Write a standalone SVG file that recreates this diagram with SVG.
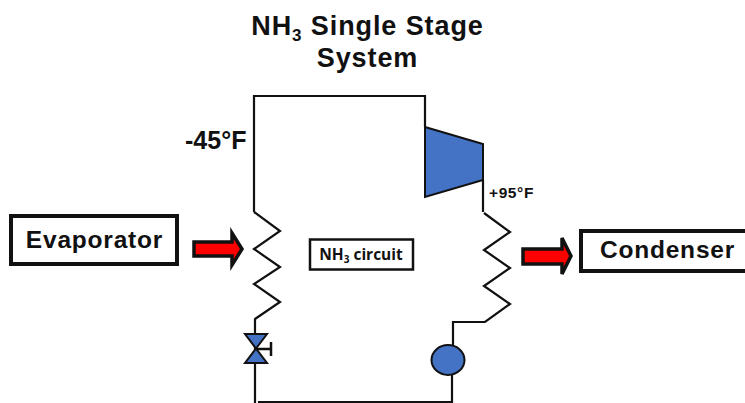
<svg xmlns="http://www.w3.org/2000/svg" width="745" height="403" viewBox="0 0 745 403">
<style>
text{font-family:"Liberation Sans",Arial,sans-serif;font-weight:bold;fill:#111}
.pipe{fill:none;stroke:#111;stroke-width:2.2}
.box{fill:#fff;stroke:#111;stroke-width:4}
.blue{fill:#4472c4;stroke:#111;stroke-width:2}
.arrow{fill:#f00;stroke:#111;stroke-width:3.5}
.big{font-size:24.500px;letter-spacing:.8px}
</style>
<rect width="745" height="403" fill="#fff"/>
<g id="title"><text x="367.500" y="35" font-size="27" letter-spacing=".9" text-anchor="middle">NH<tspan font-size="17" dy="6">3</tspan><tspan dy="-6"> Single Stage</tspan></text><text x="367.500" y="67" font-size="27" letter-spacing=".9" text-anchor="middle">System</text></g>
<g id="connectors">
<path class="pipe" d="M254 212V96H425V127M483 180V212"/>
<path class="pipe" d="M254 212L280 231L254 249L280 267L254 284L280 302L255 319V403"/>
<path class="pipe" d="M484 213L510 232L484 250L510 268L484 286L510 304L485 322H453V346"/>
<path class="pipe" d="M258 402H452V375"/>
</g>
<g id="compressor"><path class="blue" d="M425 127L483 144V180L425 197Z"/></g>
<g id="temp-low"><text x="185" y="149" font-size="25">-45°F</text></g>
<g id="temp-high"><text x="489" y="198" font-size="15.500" letter-spacing=".6">+95°F</text></g>
<g id="evaporator"><rect class="box" x="11" y="216" width="166" height="48"/><text class="big" x="94.500" y="248" text-anchor="middle">Evaporator</text></g>
<g id="evaporator-arrow"><path class="arrow" d="M194 242H232V233L242 249L232 265V256H194Z"/></g>
<g id="circuit"><rect x="310" y="239.500" width="103" height="30" fill="#fff" stroke="#111" stroke-width="2.500"/><text x="361" y="260" font-size="15.500" text-anchor="middle" style="font-family:'Open Sans',sans-serif">NH<tspan font-size="10" dy="3">3</tspan><tspan dy="-3"> circuit</tspan></text></g>
<g id="condenser-arrow"><path class="arrow" d="M523 249H562V238L571 256L562 274V264H523Z"/></g>
<g id="condenser"><rect class="box" x="581" y="231" width="170" height="40"/><text class="big" x="667.500" y="258" text-anchor="middle">Condenser</text></g>
<g id="valve"><path class="blue" d="M245 334H267L245 363H267Z"/><path d="M256 349H271M271 342V356" fill="none" stroke="#111" stroke-width="2.500"/></g>
<g id="pump"><ellipse class="blue" cx="448" cy="360" rx="16.500" ry="15"/></g>
</svg>
